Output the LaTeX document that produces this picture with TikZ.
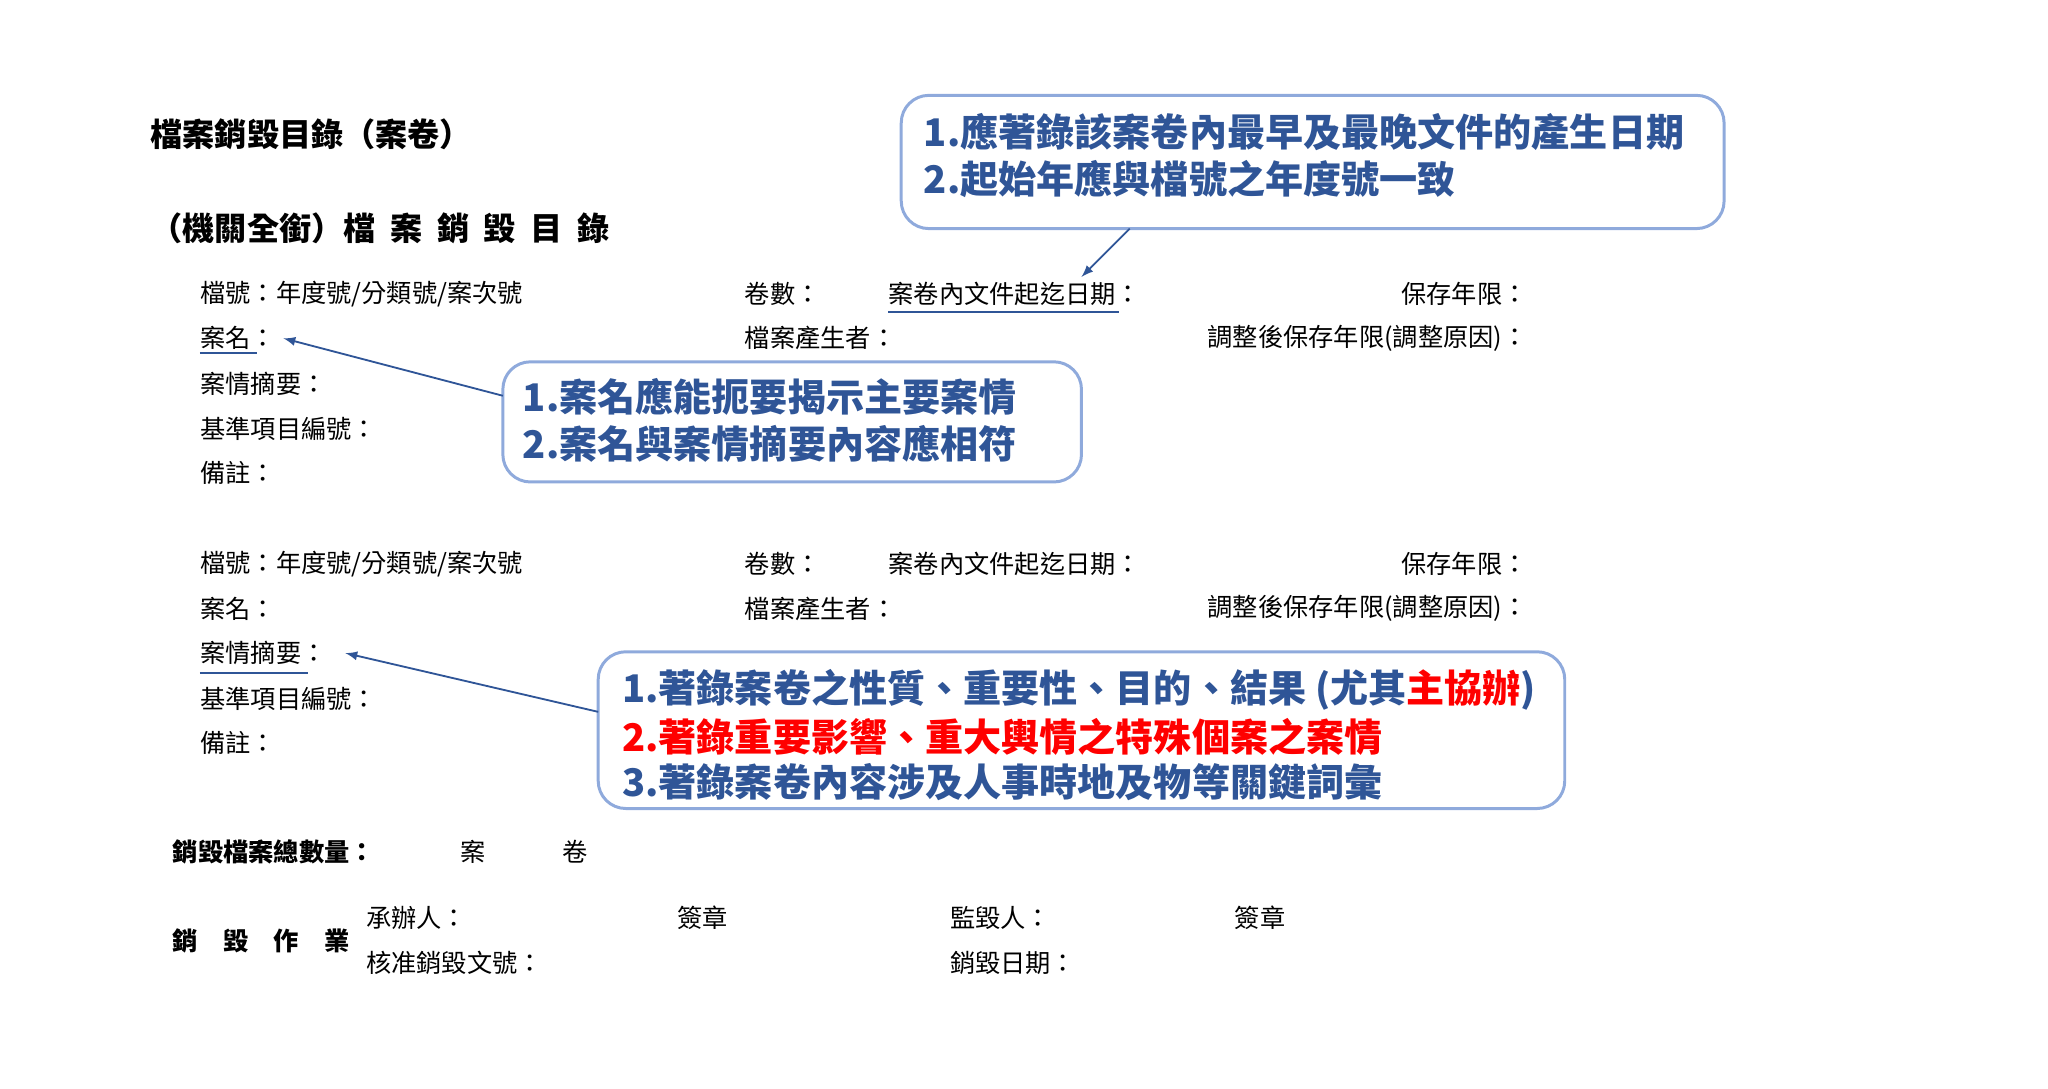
\documentclass[tikz,border=0pt]{standalone}
\usepackage{fontspec}
\setmainfont{Noto Sans CJK TC}
\usetikzlibrary{positioning}
\definecolor{noteblue}{RGB}{47,85,151}
\definecolor{framebl}{RGB}{143,170,220}
\tikzset{
  form/.style={anchor=west, inner sep=0pt, font=\fontsize{11}{13}\selectfont},
  formr/.style={anchor=east, inner sep=0pt, font=\fontsize{11}{13}\selectfont},
  head/.style={anchor=west, inner sep=0pt, font=\fontsize{14}{16}\selectfont\bfseries},
  note/.style={draw=framebl, line width=1.3pt, rounded corners=12pt},
  notetext/.style={anchor=west, inner sep=0pt, text=noteblue, font=\fontsize{16.6}{19}\selectfont\bfseries},
  line/.style={draw=noteblue, line width=0.8pt, -latex},
  uline/.style={draw=noteblue, line width=0.8pt}
}
\begin{document}
\begin{tikzpicture}[x=0.02cm, y=-0.02cm]
\useasboundingbox (0,0) rectangle (1568,833);
% headings
\node [head] (title) at (115,103) {檔案銷毀目錄（案卷）};
\node [head] (subtitle) at (115,175) {（機關全銜）檔\ \ 案\ \ 銷\ \ 毀\ \ 目\ \ 錄};
% first record
\node [form] (no1) at (153,225) {檔號：年度號/分類號/案次號};
\node [form] (name1) at (153,259) {案名：};
\node [form] (sum1) at (153,294) {案情摘要：};
\node [form] (item1) at (153,328) {基準項目編號：};
\node [form] (memo1) at (153,362) {備註：};
\node [form] (vol1) at (570,225) {卷數：};
\node [form] (maker1) at (570,259) {檔案產生者：};
\node [form] (date1) at (680,225) {案卷內文件起迄日期：};
\node [formr] (keep1) at (1170,225) {保存年限：};
\node [formr] (adj1) at (1170,259) {調整後保存年限(調整原因)：};
% second record
\node [form] (no2) at (153,432) {檔號：年度號/分類號/案次號};
\node [form] (name2) at (153,466) {案名：};
\node [form] (sum2) at (153,500) {案情摘要：};
\node [form] (item2) at (153,535) {基準項目編號：};
\node [form] (memo2) at (153,569) {備註：};
\node [form] (vol2) at (570,432) {卷數：};
\node [form] (maker2) at (570,466) {檔案產生者：};
\node [form] (date2) at (680,432) {案卷內文件起迄日期：};
\node [formr] (keep2) at (1170,432) {保存年限：};
\node [formr] (adj2) at (1170,466) {調整後保存年限(調整原因)：};
% totals and signatures
\node [form, font=\fontsize{11}{13}\selectfont\bfseries] (total) at (132,652) {銷毀檔案總數量：};
\node [form] (case) at (352,652) {案};
\node [form] (roll) at (430,652) {卷};
\node [form, font=\fontsize{11}{13}\selectfont\bfseries] (work) at (132,720) {銷\quad 毀\quad 作\quad 業};
\node [form] (clerk) at (280,703) {承辦人：};
\node [form] (sign1) at (518,703) {簽章};
\node [form] (super) at (727,703) {監毀人：};
\node [form] (sign2) at (945,703) {簽章};
\node [form] (appr) at (280,737) {核准銷毀文號：};
\node [form] (ddate) at (727,737) {銷毀日期：};
% underlines
\draw [uline] (680,239) -- (857,239);
\draw [uline] (153,270) -- (197,270);
\draw [uline] (153,515) -- (236,515);
% notes
\draw [note] (690,73) rectangle (1320,175);
\node [notetext] (n1a) at (707,101) {1.應著錄該案卷內最早及最晚文件的產生日期};
\node [notetext] (n1b) at (707,137) {2.起始年應與檔號之年度號一致};
\draw [note] (385,277) rectangle (828,369);
\node [notetext] (n2a) at (400,304) {1.案名應能扼要揭示主要案情};
\node [notetext] (n2b) at (400,340) {2.案名與案情摘要內容應相符};
\draw [note] (458,499) rectangle (1198,619);
\node [notetext] (n3a) at (476,528) {1.著錄案卷之性質、重要性、目的、結果 (尤其\textcolor{red}{主協辦})};
\node [notetext, text=red] (n3b) at (476,564) {2.著錄重要影響、重大輿情之特殊個案之案情};
\node [notetext] (n3c) at (476,599) {3.著錄案卷內容涉及人事時地及物等關鍵詞彙};
% pointers
\coordinate (p1) at (865,175);
\coordinate (t1) at (828,212);
\coordinate (p2) at (385,303);
\coordinate (p3) at (458,545);
\path [line] (p1) -- (t1);
\path [line] (p2) -- ([xshift=3pt]name1.east);
\path [line] (p3) -- ([xshift=8pt]sum2.east);
\end{tikzpicture}
\end{document}
